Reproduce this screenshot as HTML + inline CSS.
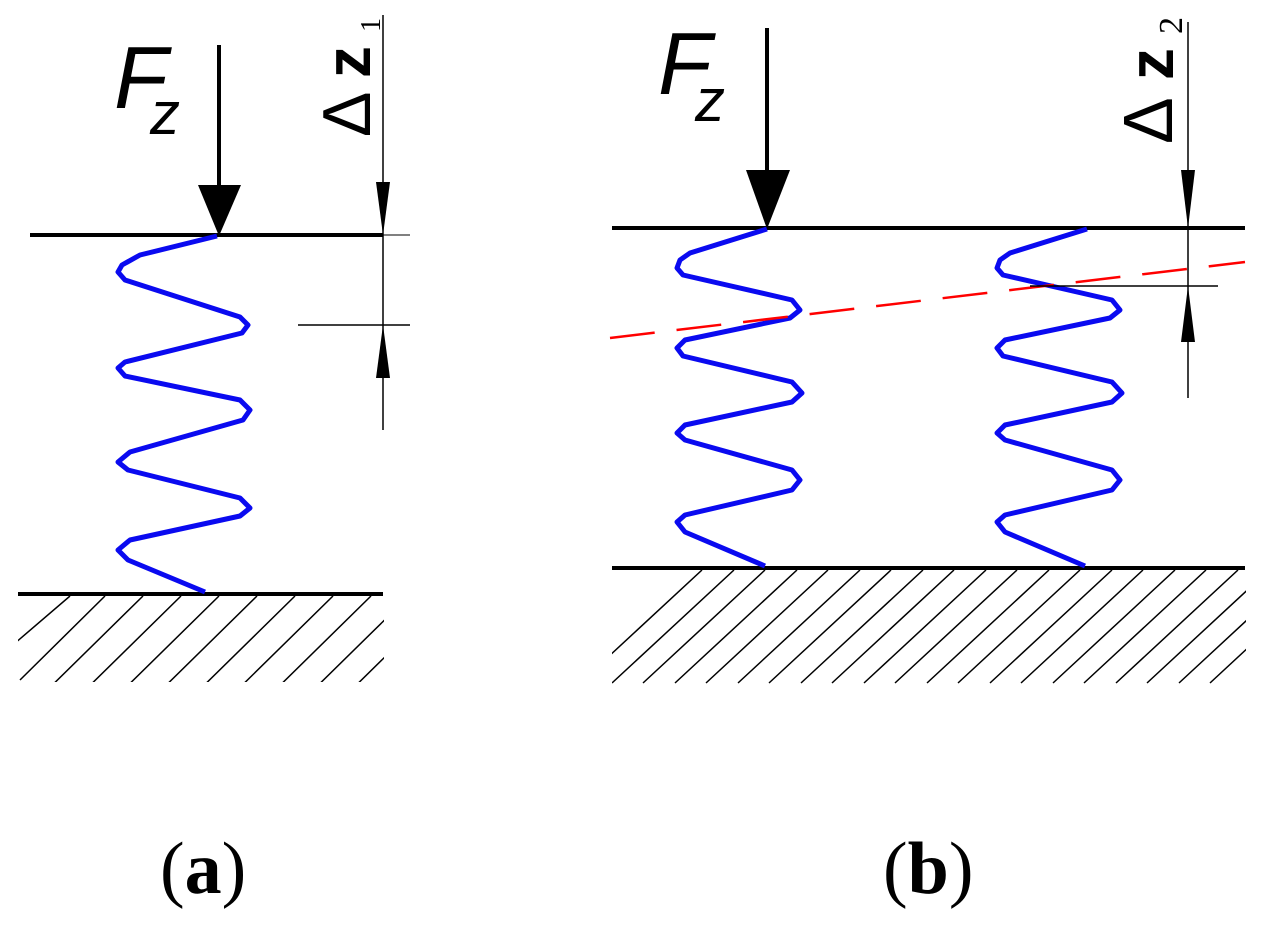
<!DOCTYPE html>
<html><head><meta charset="utf-8"><style>html,body{margin:0;padding:0;background:#fff}svg{display:block}</style></head>
<body>
<svg width="1266" height="928" viewBox="0 0 1266 928" xmlns="http://www.w3.org/2000/svg">
<defs>
<clipPath id="ca"><rect x="18" y="596" width="366" height="86"/></clipPath>
<clipPath id="cb"><rect x="612" y="570" width="634" height="116"/></clipPath>
</defs>
<!-- Panel a -->
<line x1="30" y1="235" x2="383" y2="235" stroke="#000" stroke-width="4"/>
<line x1="383" y1="235" x2="410" y2="235" stroke="#000" stroke-width="1"/>
<line x1="18" y1="594" x2="383" y2="594" stroke="#000" stroke-width="4"/>
<g clip-path="url(#ca)" stroke="#000" stroke-width="1.5">
<line x1="0" y1="656" x2="70" y2="596"/>
<line x1="20" y1="680" x2="105" y2="596"/>
<line x1="30" y1="707" x2="143" y2="596"/>
<line x1="68" y1="707" x2="181" y2="596"/>
<line x1="106" y1="707" x2="219" y2="596"/>
<line x1="144" y1="707" x2="257" y2="596"/>
<line x1="182" y1="707" x2="295" y2="596"/>
<line x1="220" y1="707" x2="333" y2="596"/>
<line x1="258" y1="707" x2="371" y2="596"/>
<line x1="296" y1="707" x2="409" y2="596"/>
<line x1="334" y1="707" x2="447" y2="596"/>
<line x1="372" y1="707" x2="485" y2="596"/>
</g>
<polyline fill="none" stroke="#0a0af0" stroke-width="5" stroke-linejoin="round" points="217,236 140,255 122,265 118,272 125,280 240,317 248,325 242,333 125,362 118,368 125,376 240,400 250,410 243,420 130,452 118,462 128,470 240,498 250,508 240,516 130,540 118,550 128,560 205,592"/>
<line x1="219" y1="45" x2="219" y2="190" stroke="#000" stroke-width="4"/>
<polygon points="198,185 241,185 219,236" fill="#000"/>
<text x="114" y="108" font-family="Liberation Sans, sans-serif" font-style="italic" font-size="88">F</text>
<text x="150" y="134" font-family="Liberation Sans, sans-serif" font-style="italic" font-size="60">z</text>
<line x1="383" y1="15" x2="383" y2="430" stroke="#000" stroke-width="1.5"/>
<polygon points="376,182 390,182 383,235" fill="#000"/>
<polygon points="376,378 390,378 383,325" fill="#000"/>
<line x1="298" y1="325" x2="410" y2="325" stroke="#000" stroke-width="1.5"/>
<text transform="translate(370,137) rotate(-90)" font-family="Liberation Sans, sans-serif" font-size="68">Δ</text>
<text transform="translate(370,78) rotate(-90)" font-family="Liberation Sans, sans-serif" font-weight="bold" font-size="64">z</text>
<text transform="translate(380,32) rotate(-90)" font-family="Liberation Serif, serif" font-size="28">1</text>
<!-- Panel b -->
<line x1="612" y1="228" x2="1245" y2="228" stroke="#000" stroke-width="4"/>
<line x1="612" y1="568" x2="1245" y2="568" stroke="#000" stroke-width="4"/>
<g clip-path="url(#cb)" stroke="#000" stroke-width="1.5">
<line x1="580" y1="683" x2="702" y2="570"/>
<line x1="612" y1="683" x2="734" y2="570"/>
<line x1="643" y1="683" x2="765" y2="570"/>
<line x1="675" y1="683" x2="797" y2="570"/>
<line x1="706" y1="683" x2="828" y2="570"/>
<line x1="738" y1="683" x2="860" y2="570"/>
<line x1="769" y1="683" x2="891" y2="570"/>
<line x1="801" y1="683" x2="923" y2="570"/>
<line x1="832" y1="683" x2="954" y2="570"/>
<line x1="864" y1="683" x2="986" y2="570"/>
<line x1="895" y1="683" x2="1017" y2="570"/>
<line x1="927" y1="683" x2="1049" y2="570"/>
<line x1="958" y1="683" x2="1080" y2="570"/>
<line x1="990" y1="683" x2="1112" y2="570"/>
<line x1="1021" y1="683" x2="1143" y2="570"/>
<line x1="1053" y1="683" x2="1175" y2="570"/>
<line x1="1084" y1="683" x2="1206" y2="570"/>
<line x1="1116" y1="683" x2="1238" y2="570"/>
<line x1="1147" y1="683" x2="1269" y2="570"/>
<line x1="1179" y1="683" x2="1301" y2="570"/>
<line x1="1210" y1="683" x2="1332" y2="570"/>
</g>
<g id="sp">
<polyline fill="none" stroke="#0a0af0" stroke-width="5" stroke-linejoin="round" points="767,229 690,253 680,260 677,268 683,275 792,300 800,310 790,318 685,340 677,348 683,356 792,382 802,393 792,402 685,425 677,433 685,440 792,470 800,480 792,490 685,515 677,522 685,532 765,566"/>
</g>
<use href="#sp" transform="translate(320,0)"/>
<line x1="610" y1="338" x2="1245" y2="262" stroke="#f00" stroke-width="2.5" stroke-dasharray="45,22"/>
<line x1="767" y1="28" x2="767" y2="175" stroke="#000" stroke-width="4"/>
<polygon points="746,170 790,170 767,229" fill="#000"/>
<text x="658" y="94" font-family="Liberation Sans, sans-serif" font-style="italic" font-size="88">F</text>
<text x="695" y="121" font-family="Liberation Sans, sans-serif" font-style="italic" font-size="60">z</text>
<line x1="1188" y1="22" x2="1188" y2="398" stroke="#000" stroke-width="1.5"/>
<polygon points="1181,170 1195,170 1188,228" fill="#000"/>
<polygon points="1181,342 1195,342 1188,286" fill="#000"/>
<line x1="1030" y1="286" x2="1218" y2="286" stroke="#000" stroke-width="1.5"/>
<text transform="translate(1172,144) rotate(-90)" font-family="Liberation Sans, sans-serif" font-size="70">Δ</text>
<text transform="translate(1173,80) rotate(-90)" font-family="Liberation Sans, sans-serif" font-weight="bold" font-size="64">z</text>
<text transform="translate(1182,34) rotate(-90)" font-family="Liberation Serif, serif" font-size="34">2</text>
<text x="160" y="893" font-family="Liberation Serif, serif" font-size="74">(<tspan font-weight="bold">a</tspan>)</text>
<text x="883" y="893" font-family="Liberation Serif, serif" font-size="74">(<tspan font-weight="bold">b</tspan>)</text>
</svg>
</body></html>
